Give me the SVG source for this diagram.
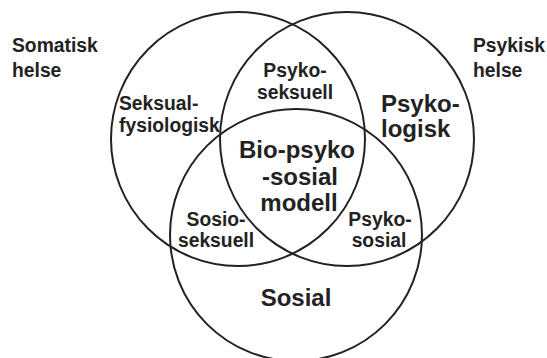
<svg xmlns="http://www.w3.org/2000/svg" width="547" height="358" viewBox="0 0 547 358">
<style>
.c{fill:none;stroke:#222;stroke-width:2}
text{font-family:"Liberation Sans",Arial,sans-serif;font-weight:bold;fill:#222}
.s{font-size:21px}
.b{font-size:24px}
.m{text-anchor:middle}
</style>
<rect width="547" height="358" fill="#fff"/>
<g id="connectors"></g>
<g id="outer-labels">
<text class="s" transform="translate(12,52) scale(0.92,1)">Somatisk</text>
<text class="s" transform="translate(12,77) scale(0.92,1)">helse</text>
<text class="s" transform="translate(473,52) scale(0.92,1)">Psykisk</text>
<text class="s" transform="translate(473,77) scale(0.92,1)">helse</text>
</g>
<g id="somatic">
<circle class="c" cx="238" cy="139" r="127"/>
<text class="s" transform="translate(119,110) scale(0.92,1)">Seksual-</text>
<text class="s" transform="translate(119,132) scale(0.92,1)">fysiologisk</text>
</g>
<g id="psychological">
<circle class="c" cx="347" cy="139" r="127"/>
<text class="b" x="381" y="112">Psyko-</text>
<text class="b" x="381" y="137">logisk</text>
</g>
<g id="social">
<circle class="c" cx="296" cy="235" r="126"/>
<text class="b m" x="296" y="306">Sosial</text>
</g>
<g id="psykoseksuell">
<text class="s m" transform="translate(295,77) scale(0.92,1)">Psyko-</text>
<text class="s m" transform="translate(295,99) scale(0.92,1)">seksuell</text>
</g>
<g id="sosioseksuell">
<text class="s m" transform="translate(216,226) scale(0.92,1)">Sosio-</text>
<text class="s m" transform="translate(216,247) scale(0.92,1)">seksuell</text>
</g>
<g id="psykososial">
<text class="s m" transform="translate(380,226) scale(0.92,1)">Psyko-</text>
<text class="s m" transform="translate(379,247) scale(0.92,1)">sosial</text>
</g>
<g id="biopsykososial">
<text class="b m" x="297" y="158">Bio-psyko</text>
<text class="b m" x="300" y="185">-sosial</text>
<text class="b m" x="299" y="211">modell</text>
</g>
</svg>
